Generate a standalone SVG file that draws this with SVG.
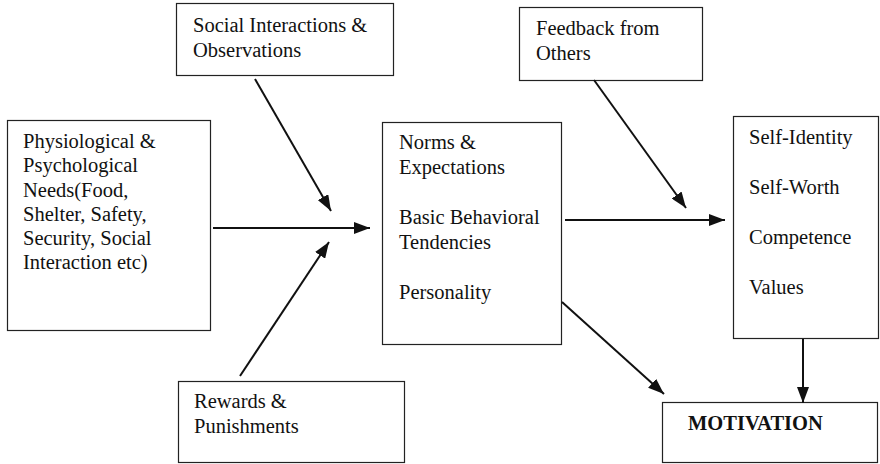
<svg xmlns="http://www.w3.org/2000/svg" width="880" height="464" viewBox="0 0 880 464">
<defs>
<style>
.box{fill:#fff;stroke:#222;stroke-width:1.2}
.t{font-family:"Liberation Serif","Times New Roman",serif;font-size:20.5px;fill:#111}
.b{font-weight:bold}
.c{stroke:#111;stroke-width:2;fill:none;marker-end:url(#ah)}
</style>
<marker id="ah" markerUnits="userSpaceOnUse" markerWidth="16" markerHeight="12" refX="16" refY="6" orient="auto">
<path d="M0,0 L16,6 L0,12 Z" fill="#111"/>
</marker>
</defs>
<rect width="880" height="464" fill="#fff"/>
<g id="social">
<rect class="box" x="176.5" y="3.5" width="217" height="72"/>
<text class="t" x="193" y="32">Social Interactions &amp;</text>
<text class="t" x="193" y="57">Observations</text>
</g>
<g id="feedback">
<rect class="box" x="519.5" y="7.5" width="183" height="73"/>
<text class="t" x="536" y="35">Feedback from</text>
<text class="t" x="536" y="60">Others</text>
</g>
<g id="needs">
<rect class="box" x="7.5" y="120.5" width="203" height="210"/>
<text class="t" x="23" y="148">Physiological &amp;</text>
<text class="t" x="23" y="172">Psychological</text>
<text class="t" x="23" y="197">Needs(Food,</text>
<text class="t" x="23" y="221">Shelter, Safety,</text>
<text class="t" x="23" y="245">Security, Social</text>
<text class="t" x="23" y="269">Interaction etc)</text>
</g>
<g id="norms">
<rect class="box" x="382.5" y="122.5" width="179" height="222"/>
<text class="t" x="399" y="149">Norms &amp;</text>
<text class="t" x="399" y="174">Expectations</text>
<text class="t" x="399" y="224">Basic Behavioral</text>
<text class="t" x="399" y="249">Tendencies</text>
<text class="t" x="399" y="299">Personality</text>
</g>
<g id="self">
<rect class="box" x="733.5" y="116.5" width="145" height="222"/>
<text class="t" x="749" y="144">Self-Identity</text>
<text class="t" x="749" y="194">Self-Worth</text>
<text class="t" x="749" y="244">Competence</text>
<text class="t" x="749" y="294">Values</text>
</g>
<g id="rewards">
<rect class="box" x="178.5" y="381.5" width="226" height="81"/>
<text class="t" x="194" y="408">Rewards &amp;</text>
<text class="t" x="194" y="433">Punishments</text>
</g>
<g id="motivation">
<rect class="box" x="662.5" y="402.5" width="215" height="60"/>
<text class="t b" x="688" y="430">MOTIVATION</text>
</g>
<g id="connectors">
<line class="c" x1="255" y1="79" x2="331" y2="211"/>
<line class="c" x1="213" y1="228" x2="370" y2="228"/>
<line class="c" x1="240" y1="376" x2="329" y2="242"/>
<line class="c" x1="565" y1="220" x2="725" y2="220"/>
<line class="c" x1="594" y1="80" x2="686" y2="208"/>
<line class="c" x1="562" y1="302" x2="664" y2="394"/>
<line class="c" x1="803" y1="339" x2="803" y2="403"/>
</g>
</svg>
